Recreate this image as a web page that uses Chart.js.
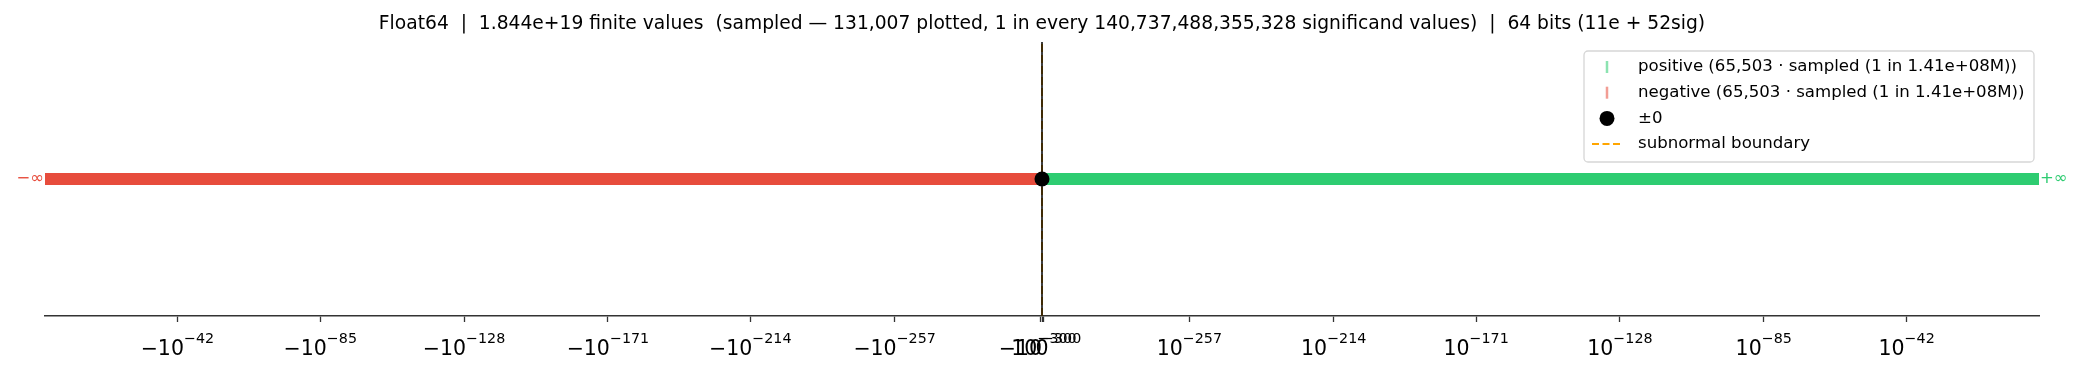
<!DOCTYPE html>
<html><head><meta charset="utf-8">
<script src="https://cdn.jsdelivr.net/npm/chart.js@4.4.1/dist/chart.umd.min.js"></script>
<style>html,body{margin:0;padding:0;background:#fff;overflow:hidden}</style>
</head><body>
<canvas id="c" width="2084" height="372"></canvas>
<script>
// ---------- data ----------
const titleText = "Float64  |  1.844e+19 finite values  (sampled \u2014 131,007 plotted, 1 in every 140,737,488,355,328 significand values)  |  64 bits (11e + 52sig)";
// positions on the normalised rank axis (-1 = most negative finite, +1 = most positive finite)
const negativeSpan = [-1, 0];
const positiveSpan = [0, 1];
const zeroValue = [0];
const subnormalBoundary = [0];
const tickPositions = [-0.8672, -0.7239, -0.5797, -0.4354, -0.2926, -0.1478, -0.002, 0, 0.002, 0.1478, 0.2926, 0.4354, 0.5797, 0.7239, 0.8672];
const tickBases     = ["\u221210","\u221210","\u221210","\u221210","\u221210","\u221210","\u221210","0","10","10","10","10","10","10","10"];
const tickExponents = ["\u221242","\u221285","\u2212128","\u2212171","\u2212214","\u2212257","\u2212300","","\u2212300","\u2212257","\u2212214","\u2212171","\u2212128","\u221285","\u221242"];
const legendLabels = ["positive (65,503 \u00b7 sampled (1 in 1.41e+08M))","negative (65,503 \u00b7 sampled (1 in 1.41e+08M))","\u00b10","subnormal boundary"];
const endLabels = ["\u2212\u221e", "+\u221e"];

const RED = '#e74c3c', GREEN = '#2ecc71', FONT = "'DejaVu Sans', sans-serif";

const overlay = {
  id: 'overlay',
  afterDraw(chart) {
    const ctx = chart.ctx, xs = chart.scales.x, ys = chart.scales.y, ca = chart.chartArea;
    ctx.save();
    // tick labels (mathtext style)
    ctx.fillStyle = '#000';
    ctx.textBaseline = 'alphabetic';
    ctx.textAlign = 'left';
    tickPositions.forEach((v, i) => {
      const px = xs.getPixelForValue(v);
      ctx.font = '20.5px ' + FONT;
      const wb = ctx.measureText(tickBases[i]).width;
      ctx.font = '14.3px ' + FONT;
      const we = tickExponents[i] ? ctx.measureText(tickExponents[i]).width : 0;
      const x0 = px - (wb + we) / 2;
      ctx.font = '20.5px ' + FONT;
      ctx.fillText(tickBases[i], x0, 355);
      if (tickExponents[i]) { ctx.font = '14.3px ' + FONT; ctx.fillText(tickExponents[i], x0 + wb, 343); }
    });
    // infinity labels
    const yMid = ys.getPixelForValue(0);
    ctx.font = '16.5px ' + FONT;
    ctx.textBaseline = 'middle';
    ctx.fillStyle = RED; ctx.textAlign = 'right';
    ctx.fillText(endLabels[0], ca.left - 1, yMid);
    ctx.fillStyle = GREEN; ctx.textAlign = 'left';
    ctx.fillText(endLabels[1], ca.right + 1, yMid);
    // legend
    const bx = 1584, by = 51, bw = 450, bh = 111;
    ctx.beginPath();
    ctx.roundRect(bx, by, bw, bh, 4);
    ctx.fillStyle = 'rgba(255,255,255,0.85)'; ctx.fill();
    ctx.strokeStyle = '#d6d6d6'; ctx.lineWidth = 1.3; ctx.stroke();
    const rows = [67, 92.7, 118.4, 144];
    const mx = 1607;
    ctx.lineWidth = 2.5;
    ctx.strokeStyle = 'rgba(46,204,113,0.55)';
    ctx.beginPath(); ctx.moveTo(mx, rows[0] - 6); ctx.lineTo(mx, rows[0] + 6); ctx.stroke();
    ctx.strokeStyle = 'rgba(231,76,60,0.55)';
    ctx.beginPath(); ctx.moveTo(mx, rows[1] - 6); ctx.lineTo(mx, rows[1] + 6); ctx.stroke();
    ctx.fillStyle = '#000';
    ctx.beginPath(); ctx.arc(mx, rows[2], 7.5, 0, Math.PI * 2); ctx.fill();
    ctx.strokeStyle = 'orange'; ctx.lineWidth = 2; ctx.setLineDash([7, 3.5]);
    ctx.beginPath(); ctx.moveTo(1592, rows[3]); ctx.lineTo(1621, rows[3]); ctx.stroke();
    ctx.setLineDash([]);
    ctx.font = '16.6px ' + FONT; ctx.fillStyle = '#000'; ctx.textAlign = 'left'; ctx.textBaseline = 'middle';
    legendLabels.forEach((t, i) => ctx.fillText(t, 1638, rows[i]));
    ctx.restore();
  }
};

new Chart(document.getElementById('c'), {
  type: 'scatter',
  data: {
    datasets: [
      { label: legendLabels[2], data: zeroValue.map(x => ({x, y: 0})), pointRadius: 7.5, pointBackgroundColor: '#000', pointBorderWidth: 0, showLine: false },
      { label: 'zero line', data: zeroValue.flatMap(x => [{x, y: -1}, {x, y: 1}]), showLine: true, borderColor: 'rgba(0,0,0,0.84)', borderWidth: 1.8, pointRadius: 0 },
      { label: legendLabels[0], data: positiveSpan.map(x => ({x, y: 0})), showLine: true, borderColor: GREEN, borderWidth: 12, borderCapStyle: 'butt', pointRadius: 0 },
      { label: legendLabels[1], data: negativeSpan.map(x => ({x, y: 0})), showLine: true, borderColor: RED, borderWidth: 12, borderCapStyle: 'butt', pointRadius: 0 },
      { label: legendLabels[3], data: subnormalBoundary.flatMap(x => [{x, y: -1}, {x, y: 1}]), showLine: true, borderColor: 'orange', borderDash: [8, 3], borderWidth: 1.8, pointRadius: 0 }
    ]
  },
  options: {
    responsive: false, animation: false, devicePixelRatio: 1,
    layout: { padding: { left: 45, right: 45, top: 0, bottom: 0 } },
    plugins: {
      legend: { display: false }, tooltip: { enabled: false },
      title: { display: true, text: titleText, color: '#000', font: { family: FONT, size: 18.7, weight: 'normal', lineHeight: 1.2 }, padding: { top: 13, bottom: 6.6 } }
    },
    scales: {
      x: {
        type: 'linear', min: -1, max: 1,
        afterBuildTicks: s => { s.ticks = tickPositions.map(v => ({ value: v })); },
        afterFit: s => { s.height = 56; },
        ticks: { display: false },
        grid: { display: true, drawOnChartArea: false, drawTicks: true, tickLength: 6, tickColor: '#333', tickWidth: 1.3 },
        border: { display: true, color: '#333', width: 1.6 }
      },
      y: { display: false, min: -1, max: 1 }
    }
  },
  plugins: [overlay]
});
</script>
</body></html>
